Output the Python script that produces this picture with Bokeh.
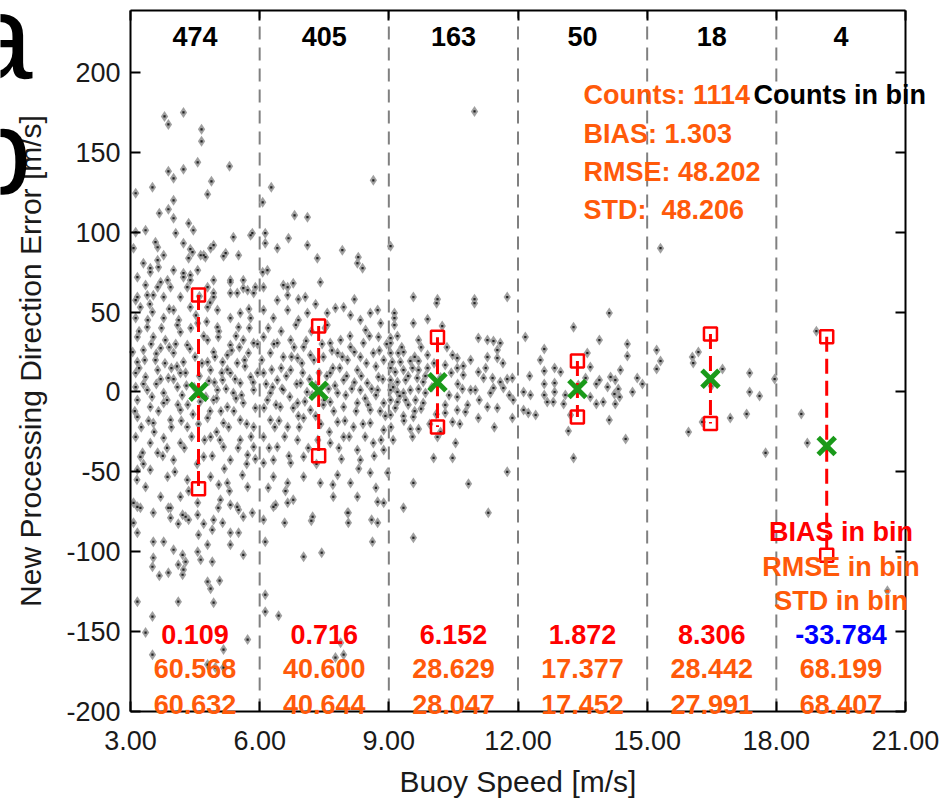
from bokeh.plotting import figure
from bokeh.models import (Range1d, LinearAxis, FixedTicker, PrintfTickFormatter,
                          Label, LabelSet, ColumnDataSource)
from bokeh.embed import file_html
from bokeh.resources import INLINE
from bokeh.core.properties import value

# ---------------- data ----------------
bin_edges = [3, 6, 9, 12, 15, 18, 21]
bin_centers = [4.5, 7.5, 10.5, 13.5, 16.5, 19.5]
bin_counts = [474, 405, 163, 50, 18, 4]
bin_mean_speed = [4.58, 7.37, 10.13, 13.38, 16.47, 19.17]
bin_bias = [0.109, 0.716, 6.152, 1.872, 8.306, -33.784]
bin_rmse = [60.568, 40.600, 28.629, 17.377, 28.442, 68.199]
bin_std = [60.632, 40.644, 28.047, 17.452, 27.991, 68.407]
total_counts = 1114
total_bias = 1.303
total_rmse = 48.202
total_std = 48.206
x_ticks = [3, 6, 9, 12, 15, 18, 21]
y_ticks = [-200, -150, -100, -50, 0, 50, 100, 150, 200]

# (buoy speed, direction error) pairs, per speed bin
bin1_obs = [
    (4.23, 175), (3.79, 172.5), (3.88, 167.5), (4.65, 164.4), (4.65, 156.9), (4.56, 143.75),
    (4.23, 139.4), (3.88, 138.1), (5.30, 141.25), (4.88, 131.9), (4.79, 123.75), (4.00, 133.75),
    (3.51, 128.1), (3.12, 124.4), (4.00, 120), (3.67, 111.9), (3.88, 114.4), (4.00, 108.75),
    (4.35, 105.6), (4.46, 101.25), (4.05, 99.4), (3.35, 101.25), (3.12, 100), (4.23, 93.1),
    (3.63, 90.6), (3.07, 90), (4.93, 91.9), (4.86, 90), (4.39, 89.4), (4.63, 85.6), (4.74, 84.4),
    (4.35, 83.75), (5.39, 96.9), (5.79, 98.1), (5.51, 85.6), (5.16, 85), (3.30, 80.6), (3.63, 82.5),
    (3.46, 77.5), (3.65, 78.1), (3.16, 71.9), (3.86, 70), (4.00, 76.25), (4.23, 71.9), (4.39, 73.1),
    (4.56, 76.25), (4.93, 70), (5.32, 70), (5.62, 70), (3.63, 65.6), (3.93, 65.6), (4.32, 65.6),
    (4.93, 61.9), (5.32, 61.9), (5.72, 63.75), (5.90, 65.6), (3.39, 60.6), (3.16, 59.4),
    (3.58, 93.75), (5.83, 99.4), (3.77, 85.6), (4.44, 87.5), (4.70, 85.6), (5.21, 86.9), (3.46, 75),
    (4.23, 74.4), (3.35, 66.9), (3.70, 68.75), (4.39, 70), (4.79, 65.6), (5.32, 68.75), (5.62, 65),
    (5.86, 61.9), (3.12, 57.5), (3.53, 60.6), (3.77, 59.4), (4.16, 59.4), (4.93, 59.4), (5.48, 61.9),
    (3.23, 53.1), (3.51, 50), (3.77, 46.25), (4.00, 51.25), (4.39, 53.1), (4.79, 53.1), (5.02, 51.25),
    (5.32, 46.25), (5.55, 49.4), (5.79, 46.25), (3.12, 46.25), (3.39, 40.6), (4.09, 41.9), (4.56, 43.1),
    (5.02, 40.6), (5.51, 40.6), (3.16, 34.4), (3.53, 34.4), (3.81, 32.5), (4.16, 37.5), (4.32, 29.4),
    (4.79, 32.5), (5.04, 34.4), (5.32, 29.4), (5.62, 32.5), (5.86, 30.6), (3.30, 26.25), (3.70, 27.5),
    (4.00, 24.4), (4.93, 25), (5.25, 23.1), (5.74, 24.4), (3.16, 18.75), (3.58, 20), (4.23, 18.75),
    (4.79, 18.75), (5.14, 18.75), (5.48, 18.1), (3.12, 11.9), (3.35, 9.4), (3.63, 13.75), (3.88, 8.75),
    (4.16, 11.9), (4.86, 13.75), (5.14, 7.5), (5.32, 11.9), (5.55, 5.6), (5.79, 9.4), (3.12, 3.1),
    (3.39, 1.25), (3.77, -0.6), (4.09, 3.1), (5.02, 1.25), (5.39, -0.6), (5.86, 1.25), (3.16, -5),
    (3.46, -9.4), (3.77, -6.9), (4.16, -11.25), (4.93, -5), (5.25, -9.4), (5.62, -6.9), (3.16, -15.6),
    (3.53, -19.4), (3.93, -17.5), (4.32, -21.9), (4.79, -16.25), (5.16, -19.4), (5.55, -17.5),
    (5.86, -21.9), (3.12, -28.1), (3.46, -31.9), (3.77, -28.75), (4.16, -31.9), (4.86, -28.1),
    (5.16, -34.4), (5.55, -30), (5.86, -34.4), (3.23, -40.6), (3.63, -38.1), (4.00, -42.5),
    (4.70, -40.6), (5.32, -42.5), (5.72, -39.4), (3.16, -48.75), (3.46, -48.75), (3.86, -53.1),
    (4.32, -55), (4.86, -53.1), (5.25, -56.9), (5.72, -59.4), (3.35, -59.4), (3.70, -65.6),
    (4.16, -65.6), (4.56, -69.4), (5.09, -67.5), (5.48, -71.9), (3.16, -71.9), (3.53, -75.6),
    (3.88, -72.5), (4.28, -78.1), (4.93, -80), (5.62, -78.1), (3.07, -81.9),
    (3.07, -69.4), (3.23, -72.5), (3.93, -72.5), (4.21, -76.9), (4.56, -76.9), (3.93, -78.75),
    (4.11, -82.5), (4.35, -80), (4.70, -82.5), (4.90, -86.25), (4.58, -89.4), (4.79, -95.6),
    (4.56, -100), (5.14, -81.9), (5.32, -70.6), (5.51, -73.75), (5.32, -88.1), (5.51, -88.1),
    (5.32, -95.6), (5.83, -75.6), (5.62, -101.9), (5.04, -72.5), (3.16, -88.1), (3.53, -93.75),
    (3.77, -93.75), (4.00, -98.75), (4.21, -101.9), (4.11, -108.1), (4.28, -106.25), (4.23, -111.25),
    (4.21, -114.4), (4.63, -105), (4.90, -106.25), (3.53, -103.75), (3.51, -109.4), (3.67, -115),
    (3.88, -113.1), (4.79, -118.75), (4.86, -123.1), (5.07, -118.1), (4.93, -131.9), (4.11, -131.25),
    (3.16, -131.25), (3.51, -140.6), (3.35, -150.6), (3.51, -164.4), (5.16, -161.25), (5.72, -155),
    (4.79, -170.6), (4.97, -172.5), (5.16, -172.5),
    (3.30, 5), (3.50, -3), (3.70, 8), (3.95, 15), (4.10, -8), (4.30, 4), (4.45, -14), (4.60, 10),
    (4.75, -3), (4.95, 6), (5.10, -12), (5.25, 14), (5.45, -4), (5.65, 20), (5.90, -10), (3.25, -22),
    (3.60, 24), (4.05, 30), (4.50, 22), (5.00, -25), (5.45, 35), (3.85, -35), (4.40, 40), (5.70, -45),
    (4.55, -45), (3.40, 45), (4.70, 35), (3.20, 15), (5.95, 12), (4.20, -2),
    (3.05, 25), (3.10, -12), (3.20, 38), (3.28, -38), (3.33, 20), (3.42, -18), (3.48, 30), (3.55, -25),
    (3.60, 5), (3.65, -12), (3.72, 40), (3.75, -40), (3.80, 18), (3.85, -5), (3.90, 28), (3.95, -22),
    (4.00, 8), (4.03, -50), (4.08, 16), (4.12, 45), (4.18, -18), (4.25, -35), (4.28, 12), (4.33, -8),
    (4.38, 27), (4.42, -28), (4.48, 3), (4.52, 48), (4.58, -20), (4.62, -6), (4.66, 18), (4.72, -30),
    (4.77, 44), (4.82, 7), (4.85, -12), (4.90, -40), (4.96, 22), (5.00, -4), (5.05, 38), (5.08, -30),
    (5.12, 12), (5.18, -48), (5.22, 2), (5.28, -22), (5.35, 26), (5.40, -12), (5.43, 8), (5.50, -35),
    (5.53, 28), (5.58, -2), (5.60, -52), (5.66, 16), (5.70, -20), (5.76, 40), (5.80, -28), (5.85, 6),
    (5.90, -42), (5.95, 30), (3.15, -55), (3.45, 55), (3.90, 52), (4.35, -62), (4.85, 56), (5.30, -62),
    (5.75, 52), (3.30, -45), (4.60, 60), (5.05, -58),
]
bin2_obs = [
    (6.07, 118.75), (6.27, 128.1), (6.81, 110.6), (7.11, 109.4), (6.13, 93.1), (6.41, 90),
    (6.67, 96.25), (7.11, 91.9), (6.09, 65.6), (6.65, 65.6), (6.78, 68.1), (7.34, 83.75),
    (6.13, 99.4), (8.64, 132.5), (7.92, 88.75), (8.29, 84.4), (6.07, 75), (6.18, 76.25),
    (6.55, 66.9), (7.41, 68.75), (6.65, 60.6), (7.06, 59.4), (6.41, 57.5), (8.27, 80.6), (8.39, 77.5),
    (6.09, 51.25), (6.32, 46.25), (6.65, 51.25), (6.90, 45), (7.11, 49.4), (7.57, 49.4), (7.76, 52.5),
    (7.95, 53.1), (8.11, 48.1), (8.34, 45), (8.57, 49.4), (8.74, 51.25), (8.81, 43.1), (7.57, 41.9),
    (8.46, 38.75), (6.09, 34.4), (6.41, 30.6), (6.72, 32.5), (7.02, 28.1), (7.64, 30.6), (7.88, 32.5),
    (8.11, 28.1), (8.41, 30.6), (8.76, 34.4), (6.25, 24.4), (6.55, 21.9), (6.88, 21.25), (7.18, 23.1),
    (7.48, 21.9), (7.81, 24.4), (8.04, 20), (8.34, 21.9), (8.64, 24.4), (8.88, 20), (6.09, 11.9),
    (6.41, 7.5), (6.72, 13.75), (6.95, 5.6), (7.64, 11.9), (7.95, 7.5), (8.27, 13.75), (8.50, 5.6),
    (8.76, 9.4), (6.25, -0.6), (6.55, 1.25), (7.81, -0.6), (8.34, 1.25), (8.74, 1.25), (6.18, -5),
    (6.48, -9.4), (6.88, -6.9), (7.18, -11.25), (7.64, -6.25), (7.95, -9.4), (8.27, -6.9),
    (8.57, -11.25), (8.88, -6.9), (6.25, -17.5), (6.65, -21.9), (7.02, -16.25), (7.81, -18.75),
    (8.18, -21.9), (8.57, -19.4), (8.88, -23.75), (6.09, -28.1), (6.41, -34.4), (6.88, -30),
    (7.02, -40.6), (7.64, -31.9), (7.95, -28.1), (8.27, -36.25), (8.64, -31.9), (8.88, -36.25),
    (6.32, -42.5), (6.72, -44.4), (8.34, -42.5), (6.09, -44.4), (6.32, -53.1), (6.65, -56.9),
    (7.02, -53.1), (7.41, -56.9), (7.81, -51.9), (8.11, -56.9), (8.57, -50.6), (8.97, -50.6),
    (6.32, -71.9), (6.78, -67.5), (7.23, -78.1), (7.71, -65.6), (8.04, -75.6), (8.27, -65.6),
    (8.88, -69.4), (6.09, -80), (8.74, -81.9), (6.13, -93.75), (6.37, -70.6), (6.65, -69.4),
    (6.58, -81.9), (7.20, -80.6), (7.02, -103.1), (7.44, -100.6), (8.06, -75.6), (8.06, -81.9),
    (8.60, -80), (8.62, -93.75), (8.74, -68.75), (6.13, -126.9), (6.13, -137.5), (6.44, -140),
    (7.88, -156.9), (7.95, -164.4), (7.76, -166.25),
    (6.30, 3), (6.70, -3), (7.00, 12), (7.30, 4), (7.50, -5), (7.30, -15), (7.70, 15), (8.00, -2),
    (8.20, 6), (8.45, -4), (8.70, 16), (6.50, 15), (6.90, -15), (7.45, 30), (7.20, 38), (6.35, -22),
    (7.90, -42), (8.45, -28), (6.20, 40), (8.80, -12), (7.10, 0), (7.60, 2), (6.80, 28), (8.10, 35),
    (7.35, -30),
    (6.05, 20), (6.10, -10), (6.15, 5), (6.22, -35), (6.28, 14), (6.33, 30), (6.38, -8), (6.45, -18),
    (6.50, 38), (6.52, 2), (6.58, -28), (6.62, 10), (6.68, -40), (6.74, 22), (6.78, -10), (6.84, 42),
    (6.86, 5), (6.92, -22), (6.98, 18), (7.05, -6), (7.08, 32), (7.13, -35), (7.16, 8), (7.22, -2),
    (7.26, 20), (7.32, -45), (7.38, 12), (7.42, -20), (7.48, -8), (7.52, 40), (7.56, 10), (7.62, -25),
    (7.68, 26), (7.72, -12), (7.75, 4), (7.84, -35), (7.86, 15), (7.92, 22), (7.98, -18), (8.02, 10),
    (8.08, -28), (8.14, 2), (8.20, 25), (8.24, -12), (8.30, -48), (8.36, 10), (8.40, -20), (8.48, 18),
    (8.52, -8), (8.55, 35), (8.60, 2), (8.66, -40), (8.70, -2), (8.78, 26), (8.82, -30), (8.86, 8),
    (8.92, -15), (8.95, 30), (6.20, -60), (6.60, -62), (7.30, 55), (7.70, -58), (8.20, 58), (8.70, -60),
    (6.90, 58),
]
bin3_obs = [
    (10.99, 175.6), (9.04, 91.25), (9.57, 59.4), (10.13, 58.1), (10.99, 58.1), (11.75, 59.4),
    (10.11, 55.6), (10.99, 55.6), (9.13, 49.4), (9.13, 46.25), (9.13, 41.9), (9.57, 43.1),
    (9.90, 45.6), (10.24, 41.25), (9.04, 33.75), (9.04, 30.6), (9.69, 32.5), (11.08, 33.75),
    (11.29, 32.5), (11.43, 31.9), (11.59, 30.6), (11.52, 26.25), (11.52, 21.25), (11.29, 21.9),
    (9.04, 24.4), (9.22, 24.4), (9.34, 25), (9.08, 18.75), (9.27, 18.75), (9.50, 19.4), (9.69, 19.4),
    (9.90, 23.1), (10.48, 23.1), (10.59, 21.25), (10.73, 16.25), (10.73, 10.6), (10.59, 15),
    (10.31, 16.9), (9.04, 15), (9.15, 12.5), (9.34, 13.75), (9.55, 15), (9.69, 13.75), (9.04, 7.5),
    (9.20, 6.25), (9.39, 7.5), (9.66, 8.75), (9.80, 6.25), (11.08, 12.5), (11.20, 8.75), (11.41, 8.75),
    (11.59, 6.25), (11.75, 8.1), (11.87, 8.75), (10.90, 1.25), (11.01, 1.25), (10.71, 1.9),
    (11.43, 2.5), (11.36, -0.6), (11.66, 2.5), (9.04, 1.25), (9.20, 0), (9.34, -0.6), (9.50, 1.25),
    (9.69, 1.9), (9.85, -0.6), (9.04, -5), (9.20, -6.25), (9.39, -5), (9.62, -5), (9.80, -6.9),
    (10.31, -8.1), (10.59, -3.1), (10.83, -8.1), (11.29, -9.4), (11.52, -10), (11.89, -5),
    (9.04, -14.4), (9.34, -15), (9.57, -15.6), (10.31, -13.1), (10.59, -11.25), (10.78, -12.5),
    (11.08, -16.25), (11.87, -16.25), (9.50, -23.1), (9.69, -23.1), (10.13, -28.1), (10.48, -18.75),
    (10.55, -31.9), (10.04, -41.25), (10.48, -41.25), (11.75, -50), (9.57, -56.9), (10.85, -57.5),
    (9.34, -72.5), (11.31, -75.6), (9.57, -91.25),
    (9.10, 3.0), (9.25, -2.5), (9.45, 10.0), (9.60, 22.0), (9.30, 28.0), (9.15, -10.0), (9.75, -10.5),
    (9.90, 15.0), (10.00, 3.0), (10.20, 9.0), (10.40, -2.0), (10.60, 5.0), (10.10, -14.0),
    (10.35, 28.0), (9.55, -28.0), (9.05, -22.0),
    (9.10, -30), (9.20, 35), (9.35, -18), (9.45, -8), (9.60, -12), (9.75, 28), (9.85, 10), (9.95, -20),
    (10.05, 18), (10.20, -25), (10.45, 12), (10.65, -20), (10.90, 20), (11.10, -5), (11.25, 15),
    (11.45, -22), (11.65, 18), (11.80, -2),
]
bin4_obs = [
    (12.17, 34.4), (12.61, 26.9), (13.29, 40.6), (14.12, 49.4), (13.89, 32.5), (14.54, 30.0),
    (14.54, 22.5), (13.61, 24.4), (12.27, 10.0), (12.61, 13.1), (12.85, 15.0), (12.61, 5.0),
    (12.85, 5.6), (12.85, 0.0), (12.61, -1.9), (12.29, -1.9), (12.13, 0.0), (12.13, -11.25),
    (12.24, -13.1), (12.41, -14.4), (12.68, -6.25), (12.82, -6.25), (13.06, -7.5), (13.68, 15.6),
    (13.89, 7.5), (13.82, 5.0), (14.08, 3.1), (14.15, 9.4), (14.26, 7.5), (14.33, 1.9), (14.24, -1.25),
    (14.36, -3.1), (13.82, -7.5), (13.98, -6.25), (14.26, -7.5), (14.12, -17.5), (13.17, -24.4),
    (13.29, -41.25), (14.50, -29.4), (14.77, 8.75), (14.89, 5.0), (13.68, -3.1), (13.40, 4.4),
    (13.10, -1.9), (13.57, 8.75), (12.99, 12.5), (14.38, 13.75), (14.66, 0.0), (12.52, 20.0),
    (13.22, -14.4),
]
bin5_obs = [
    (15.22, 26.25), (15.31, 19.4), (15.22, 14.4), (16.05, 21.9), (16.19, 25.0), (16.07, 18.1),
    (16.75, 14.4), (17.38, 11.9), (17.38, 0.0), (17.61, -2.5), (17.31, -13.75), (16.93, -16.25),
    (16.28, -18.75), (15.96, -25.0), (17.75, -38.1), (17.96, 8.1), (15.31, 90.0), (16.49, 3.75),
]
bin6_obs = [(18.93, 38.1), (18.58, -13.75), (18.72, -31.9), (20.58, -124.4)]

all_obs = bin1_obs + bin2_obs + bin3_obs + bin4_obs + bin5_obs + bin6_obs
obs_speed = [o[0] for o in all_obs]
obs_err = [o[1] for o in all_obs]

# ---------------- styles / layout ----------------
FONT = "Liberation Sans"
ORANGE = "#FF5A0A"
RED = "#FF0000"
BLUE = "#0000FF"
GREEN = "#1A9A1A"
W, H = 945, 801
BOX_L, BOX_R, BOX_T, BOX_B = 130, 905, 10, 711      # pixel box of the plotting area
X0, X1, Y0, Y1 = 3.0, 21.0, -200.0, 238.8           # data values at the box edges
kx = (BOX_R - BOX_L) / (X1 - X0)
ky = (BOX_B - BOX_T) / (Y1 - Y0)
# the frame fills the whole canvas so that texts may run past the plot box
x_range = Range1d(X0 - BOX_L / kx, X1 + (W - BOX_R) / kx)
y_range = Range1d(Y0 - (H - BOX_B) / ky, Y1 + BOX_T / ky)

p = figure(width=W, height=H, x_range=x_range, y_range=y_range,
           output_backend="svg", toolbar_location=None,
           x_axis_location=None, y_axis_location=None,
           min_border_left=0, min_border_right=0, min_border_top=0, min_border_bottom=0,
           background_fill_color="white", border_fill_color="white")
p.xgrid.visible = False
p.ygrid.visible = False
p.outline_line_color = None


def make_axis(ticks, fmt, loc, bounds, labels=True):
    ax = LinearAxis(fixed_location=loc, bounds=bounds)
    ax.ticker = FixedTicker(ticks=ticks)
    ax.formatter = PrintfTickFormatter(format=fmt)
    ax.axis_line_color = "black"
    ax.axis_line_width = 2
    ax.major_tick_in = 10
    ax.major_tick_out = 0
    ax.major_tick_line_width = 2
    ax.major_tick_line_color = "black"
    ax.minor_tick_line_color = None
    ax.major_label_text_font = FONT
    ax.major_label_text_font_size = "27px" if labels else "0px"
    ax.major_label_text_color = "#1a1a1a" if labels else None
    ax.axis_label_text_font = FONT
    ax.axis_label_text_font_size = "30px"
    ax.axis_label_text_font_style = "normal"
    ax.axis_label_text_color = "#1a1a1a"
    return ax


xa = make_axis(x_ticks, "%.2f", Y0, (X0, X1))
xa.major_label_standoff = 19
xa.axis_label = "Buoy Speed [m/s]"
xa.axis_label_standoff = 12
p.add_layout(xa, "below")

ya = make_axis(y_ticks, "%d", X0, (Y0, Y1))
ya.major_label_standoff = 10
ya.axis_label = "New Processing Direction Error [m/s]"
ya.axis_label_standoff = 16
p.add_layout(ya, "left")

p.add_layout(make_axis(y_ticks, "%d", X1, (Y0, Y1), labels=False), "right")
p.add_layout(make_axis(x_ticks, "%.2f", Y1, (X0, X1), labels=False), "above")

# bin separators
inner_edges = bin_edges[1:-1]
p.segment(x0=inner_edges, y0=[Y0] * len(inner_edges), x1=inner_edges, y1=[Y1] * len(inner_edges),
          line_color="#808080", line_width=2, line_dash="13 8")

# scatter of all observations
p.scatter(obs_speed, obs_err, marker="diamond", size=11, fill_color="#a0a0a0", line_color=None)
p.scatter(obs_speed, obs_err, marker="square", size=2.2, fill_color="#202020", line_color=None)

# per-bin bias +- std
upper = [b + s for b, s in zip(bin_bias, bin_std)]
lower = [b - s for b, s in zip(bin_bias, bin_std)]
p.segment(x0=bin_mean_speed, y0=upper, x1=bin_mean_speed, y1=lower,
          line_color=RED, line_width=3, line_dash="15 7")
p.scatter(bin_mean_speed, upper, marker="square", size=13, fill_color=None, line_color=RED, line_width=2.5)
p.scatter(bin_mean_speed, lower, marker="square", size=13, fill_color=None, line_color=RED, line_width=2.5)
p.scatter(bin_mean_speed, bin_bias, marker="x", size=24, line_color=GREEN, line_width=5)

# per-bin text rows
src = ColumnDataSource(dict(
    x=bin_centers,
    counts=[str(c) for c in bin_counts],
    bias=[f"{b:.3f}" for b in bin_bias],
    bias_color=[RED if b >= 0 else BLUE for b in bin_bias],
    rmse=[f"{r:.3f}" for r in bin_rmse],
    std=[f"{s:.3f}" for s in bin_std],
    y_counts=[222.5] * 6, y_bias=[-152.0] * 6, y_rmse=[-173.2] * 6, y_std=[-195.6] * 6,
))
common = dict(source=src, x="x", text_font=value(FONT), text_font_size=value("27px"),
              text_font_style="bold", text_align="center", text_baseline="middle")
p.add_layout(LabelSet(y="y_counts", text="counts", text_color="black", **common))
p.add_layout(LabelSet(y="y_bias", text="bias", text_color="bias_color", **common))
p.add_layout(LabelSet(y="y_rmse", text="rmse", text_color=ORANGE, **common))
p.add_layout(LabelSet(y="y_std", text="std", text_color=ORANGE, **common))

# overall statistics
stat_lines = [f"Counts: {total_counts}", f"BIAS: {total_bias:.3f}",
              f"RMSE: {total_rmse:.3f}", f"STD:\u00a0 {total_std:.3f}"]
stat_y = [185.6, 161.3, 137.5, 113.8]
for t, yy in zip(stat_lines, stat_y):
    p.add_layout(Label(x=13.52, y=yy, text=t, text_color=ORANGE, text_font=FONT,
                       text_font_size="27px", text_font_style="bold",
                       text_align="left", text_baseline="middle"))
p.add_layout(Label(x=17.47, y=185.6, text="Counts in bin", text_color="black", text_font=FONT,
                   text_font_size="27px", text_font_style="bold",
                   text_align="left", text_baseline="middle"))

legend_lines = [("BIAS in bin", RED, -87.5), ("RMSE in bin", ORANGE, -109.4), ("STD in bin", ORANGE, -130.6)]
for t, c, yy in legend_lines:
    p.add_layout(Label(x=19.5, y=yy, text=t, text_color=c, text_font=FONT,
                       text_font_size="27px", text_font_style="bold",
                       text_align="center", text_baseline="middle"))

# cropped panel letters at the left edge of the picture
p.add_layout(Label(x=32, y=H - 36, x_units="screen", y_units="screen", text="a", text_color="black",
                   text_font=FONT, text_font_size="120px", text_align="right", text_baseline="alphabetic"))
p.add_layout(Label(x=31, y=H - 150, x_units="screen", y_units="screen", text="b", text_color="black",
                   text_font=FONT, text_font_size="120px", text_align="right", text_baseline="alphabetic"))

open("out.html", "w").write(file_html(p, INLINE))
